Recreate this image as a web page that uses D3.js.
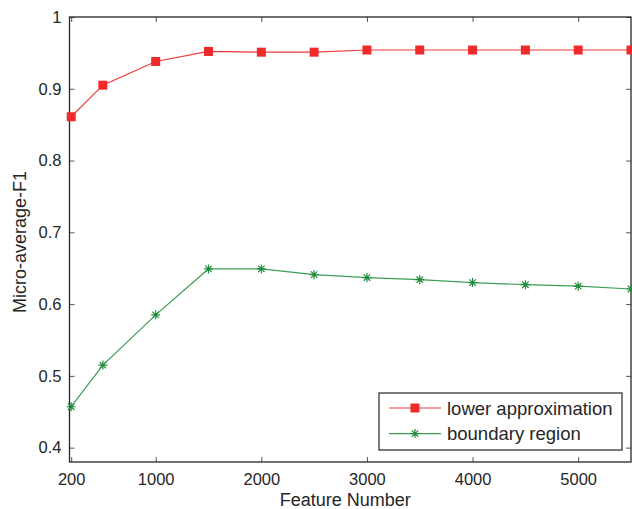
<!DOCTYPE html>
<html>
<head>
<meta charset="utf-8">
<script src="https://cdn.jsdelivr.net/npm/d3@7"></script>
<style>
  body { margin: 0; background: #fff; }
  text { font-family: "Liberation Sans", Arial, sans-serif; fill: #262626; }
</style>
</head>
<body>
<div id="chart"></div>
<script>
// values
var featureNumbers = [200, 500, 1000, 1500, 2000, 2500, 3000, 3500, 4000, 4500, 5000, 5500];
var lowerApprox = [0.861, 0.905, 0.938, 0.952, 0.951, 0.951, 0.954, 0.954, 0.954, 0.954, 0.954, 0.954];
var boundaryRegion = [0.457, 0.515, 0.585, 0.649, 0.649, 0.641, 0.637, 0.634, 0.630, 0.627, 0.625, 0.621];
var xTicks = [200, 1000, 2000, 3000, 4000, 5000];
var yTicks = [0.4, 0.5, 0.6, 0.7, 0.8, 0.9, 1];
var seriesNames = ["lower approximation", "boundary region"];

var width = 632, height = 509;
var margin = { top: 17, right: 1, bottom: 47, left: 69.5 };

var svg = d3.select('#chart')
  .append('svg')
  .attr('width', width)
  .attr('height', height);

var xScale = d3.scaleLinear()
  .domain([184, 5500])
  .range([margin.left, width - margin.right]);

var yScale = d3.scaleLinear()
  .domain([0.38, 1])
  .range([height - margin.bottom, margin.top]);

var x0 = xScale.range()[0], x1 = xScale.range()[1];
var y0 = yScale.range()[0], y1 = yScale.range()[1];
var tickLen = 5;

// inward ticks on all four sides (matlab style)
svg.append("g")
  .attr("transform", "translate(0," + y0 + ")")
  .call(d3.axisBottom(xScale).tickValues(xTicks).tickSizeInner(-tickLen).tickSizeOuter(0).tickPadding(11)
    .tickFormat(d3.format("d")))
  .call(function(g) {
    g.select(".domain").remove();
    g.selectAll("line").attr("stroke", "#555");
    g.selectAll("text").attr("fill", "#262626").style("font-size", "16.5px")
      .style("font-family", '"Liberation Sans", Arial, sans-serif');
  });

svg.append("g")
  .attr("transform", "translate(0," + y1 + ")")
  .call(d3.axisTop(xScale).tickValues(xTicks).tickSizeInner(-tickLen).tickSizeOuter(0).tickFormat(""))
  .call(function(g) {
    g.select(".domain").remove();
    g.selectAll("line").attr("stroke", "#555");
  });

svg.append("g")
  .attr("transform", "translate(" + x0 + ",0)")
  .call(d3.axisLeft(yScale).tickValues(yTicks).tickSizeInner(-tickLen).tickSizeOuter(0).tickPadding(8)
    .tickFormat(function(d) { return d === 1 ? "1" : d3.format(".1f")(d); }))
  .call(function(g) {
    g.select(".domain").remove();
    g.selectAll("line").attr("stroke", "#555");
    g.selectAll("text").attr("fill", "#262626").style("font-size", "16.5px")
      .style("font-family", '"Liberation Sans", Arial, sans-serif');
  });

svg.append("g")
  .attr("transform", "translate(" + x1 + ",0)")
  .call(d3.axisRight(yScale).tickValues(yTicks).tickSizeInner(-tickLen).tickSizeOuter(0).tickFormat(""))
  .call(function(g) {
    g.select(".domain").remove();
    g.selectAll("line").attr("stroke", "#555");
  });

// axes box
svg.append("rect")
  .attr("x", x0)
  .attr("y", y1)
  .attr("width", x1 - x0)
  .attr("height", y0 - y1)
  .style("fill", "none")
  .attr("stroke", "#262626")
  .attr("stroke-width", 1.3);

// axis labels
svg.append("text")
  .attr("x", (x0 + x1) / 2 - 5)
  .attr("y", 506)
  .style("font-size", "18px")
  .style("text-anchor", "middle")
  .text("Feature Number");

svg.append("text")
  .attr("transform", "rotate(-90)")
  .attr("x", -242)
  .attr("y", 26)
  .style("font-size", "18px")
  .style("text-anchor", "middle")
  .text("Micro-average-F1");

var redLine = "#f0393c", redMark = "#ee2a2a";
var greenLine = "#3c9e55", greenMark = "#1e8c3a";

function asterisk(r) {
  var d = r * 0.72;
  return "M" + (-r) + ",0L" + r + ",0M0," + (-r) + "L0," + r +
    "M" + (-d) + "," + (-d) + "L" + d + "," + d + "M" + (-d) + "," + d + "L" + d + "," + (-d);
}

var lineA = d3.line()
  .x(function(d, i) { return xScale(featureNumbers[i]); })
  .y(function(d) { return yScale(d); });

svg.append("path")
  .datum(lowerApprox)
  .attr("d", lineA)
  .attr("stroke", redLine)
  .attr("stroke-width", 1.2)
  .style("fill", "none");

svg.append("path")
  .datum(boundaryRegion)
  .attr("d", lineA)
  .attr("stroke", greenLine)
  .attr("stroke-width", 1.2)
  .style("fill", "none");

svg.selectAll(".sq")
  .data(lowerApprox)
  .enter()
  .append("rect")
  .attr("class", "sq")
  .attr("x", function(d, i) { return xScale(featureNumbers[i]) - 4.5; })
  .attr("y", function(d) { return yScale(d) - 4.5; })
  .attr("width", 9)
  .attr("height", 9)
  .style("fill", redMark);

svg.selectAll(".ast")
  .data(boundaryRegion)
  .enter()
  .append("path")
  .attr("class", "ast")
  .attr("transform", function(d, i) { return "translate(" + xScale(featureNumbers[i]) + "," + yScale(d) + ")"; })
  .attr("d", asterisk(4.5))
  .attr("stroke", greenMark)
  .attr("stroke-width", 1.2)
  .style("fill", "none");

// legend
var legend = svg.append("g").attr("transform", "translate(379,393)");
legend.append("rect")
  .attr("width", 243)
  .attr("height", 57)
  .style("fill", "#fff")
  .attr("stroke", "#262626")
  .attr("stroke-width", 1.2);

[0, 1].forEach(function(i) {
  var cy = 15 + i * 25.6;
  legend.append("line")
    .attr("x1", 10).attr("x2", 62)
    .attr("y1", cy).attr("y2", cy)
    .attr("stroke", i === 0 ? redLine : greenLine)
    .attr("stroke-width", 1.2);
  if (i === 0) {
    legend.append("rect")
      .attr("x", 36 - 4.5).attr("y", cy - 4.5)
      .attr("width", 9).attr("height", 9)
      .style("fill", redMark);
  } else {
    legend.append("path")
      .attr("transform", "translate(36," + cy + ")")
      .attr("d", asterisk(4.5))
      .attr("stroke", greenMark)
      .attr("stroke-width", 1.2)
      .style("fill", "none");
  }
  legend.append("text")
    .attr("x", 68)
    .attr("y", cy + 6.5)
    .style("font-size", "18.5px")
    .text(seriesNames[i]);
});
</script>
</body>
</html>
